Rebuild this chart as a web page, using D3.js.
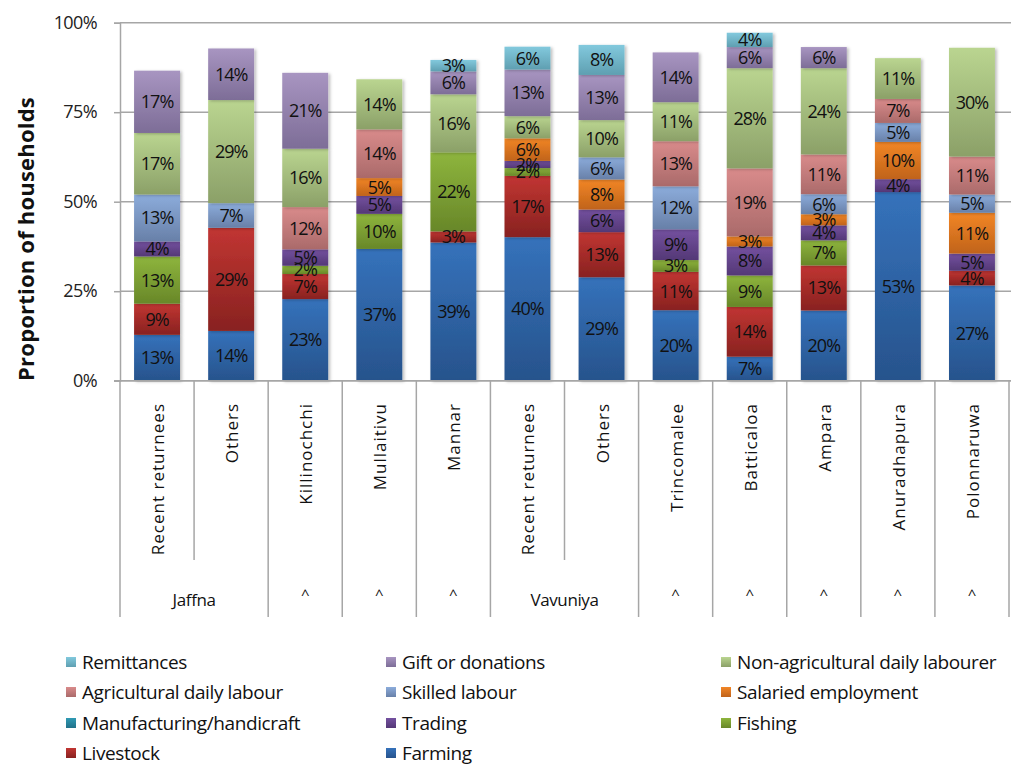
<!DOCTYPE html>
<html>
<head>
<meta charset="utf-8">
<script src="https://cdn.jsdelivr.net/npm/d3@7"></script>
<style>
  html, body { margin: 0; padding: 0; background: #fff; }
  svg { display: block; font-family: "Open Sans", "Noto Sans", sans-serif; }
</style>
</head>
<body>
<svg id="chart" width="1011" height="765"></svg>
<script>
// ---- Data (percent of households), stacked bottom -> top ----
const categories = ["Recent returnees", "Others", "Killinochchi", "Mullaitivu", "Mannar",
  "Recent returnees", "Others", "Trincomalee", "Batticaloa", "Ampara", "Anuradhapura", "Polonnaruwa"];
const groupLabels = ["Jaffna", "Jaffna", "^", "^", "^", "Vavuniya", "Vavuniya", "^", "^", "^", "^", "^"];

const seriesNames = ["Farming", "Livestock", "Fishing", "Trading", "Manufacturing/handicraft",
  "Salaried employment", "Skilled labour", "Agricultural daily labour",
  "Non-agricultural daily labourer", "Gift or donations", "Remittances"];

const farming       = [12.8, 13.9, 22.8, 36.8, 38.6, 40.1, 28.9, 19.7, 6.7, 19.6, 52.7, 26.6];
const livestock     = [8.7, 28.8, 7.0, 0, 3.1, 17.1, 12.6, 10.7, 13.9, 12.6, 0, 4.1];
const fishing       = [13.2, 0, 2.3, 9.8, 22.1, 2.2, 0, 3.3, 8.8, 7.0, 0, 0];
const trading       = [4.2, 0, 4.6, 5.0, 0, 2.0, 6.3, 8.6, 8.1, 4.2, 3.6, 4.8];
const manufacturing = [0, 0, 0, 0, 0, 0, 0, 0, 0, 0, 0, 0];
const salaried      = [0, 0, 0, 5.0, 0, 6.3, 8.4, 0, 2.8, 3.1, 10.4, 11.4];
const skilled       = [13.1, 6.9, 0, 0, 0, 0, 6.2, 12.0, 0, 5.6, 5.3, 5.1];
const agriDaily     = [0, 0, 11.8, 13.6, 0, 0, 0, 12.6, 19.0, 11.1, 6.7, 10.6];
const nonAgriDaily  = [17.2, 28.8, 16.3, 14.0, 16.2, 6.2, 10.4, 10.9, 28.0, 24.1, 11.4, 30.4];
const gifts         = [17.4, 14.4, 21.2, 0, 6.4, 13.0, 12.6, 13.9, 5.9, 5.9, 0, 0];
const remittances   = [0, 0, 0, 0, 3.2, 6.4, 8.4, 0, 4.0, 0, 0, 0];

const yTicks = [0, 25, 50, 75, 100];

const seriesValues = [farming, livestock, fishing, trading, manufacturing, salaried,
  skilled, agriDaily, nonAgriDaily, gifts, remittances];

// gradient colours (top, bottom) per series
const colorsTop    = ["#3572bb", "#c13532", "#8eb53d", "#7451a0", "#2f9ab4", "#f28626", "#8cacdb", "#d98b8b", "#bad590", "#a895c1", "#82c9dd"];
const colorsBottom = ["#27538c", "#882220", "#688729", "#543876", "#217189", "#c0631a", "#6880a8", "#aa6a6a", "#8ba068", "#7d6d97", "#5f9fb1"];

// ---- Layout ----
const svg = d3.select("#chart");
const pLeft = 120, pRight = 1009, pTop = 22.7, pBottom = 380.7;

const idx = d3.range(categories.length);
const x = d3.scaleBand().domain(idx).range([pLeft, pRight]).paddingInner(0.38).paddingOuter(0.19);
const y = d3.scaleLinear().domain([0, 100]).range([pBottom, pTop]);

// table for the stack
const table = idx.map(i => {
  const row = { i };
  seriesNames.forEach((s, k) => row[s] = seriesValues[k][i]);
  return row;
});
const stacked = d3.stack().keys(seriesNames)(table);

// defs: gradients, shadow
const defs = svg.append("defs");
seriesNames.forEach((s, k) => {
  const g = defs.append("linearGradient").attr("id", "g" + k)
    .attr("x1", 0).attr("y1", 0).attr("x2", 0).attr("y2", 1);
  g.append("stop").attr("offset", "0%").attr("stop-color", colorsTop[k]);
  g.append("stop").attr("offset", "100%").attr("stop-color", colorsBottom[k]);
});
const f = defs.append("filter").attr("id", "shadow").attr("x", "-20%").attr("y", "-5%").attr("width", "140%").attr("height", "110%");
f.append("feDropShadow").attr("dx", 2).attr("dy", 1).attr("stdDeviation", 1.5).attr("flood-color", "#000").attr("flood-opacity", 0.25);

// gridlines
svg.append("g").selectAll("line").data(yTicks).join("line")
  .attr("x1", pLeft).attr("x2", pRight + 2)
  .attr("y1", d => y(d)).attr("y2", d => y(d))
  .attr("stroke", "#a6a6a6").attr("stroke-width", 1.5);

// y axis
const yAxis = svg.append("g").attr("transform", `translate(${pLeft},0)`)
  .call(d3.axisLeft(y).tickValues(yTicks).tickFormat(d => d + "%").tickSize(6).tickPadding(17));
yAxis.select(".domain").attr("stroke", "#a6a6a6").attr("stroke-width", 1.5);
yAxis.selectAll(".tick line").attr("stroke", "#a6a6a6").attr("stroke-width", 1.5);
yAxis.selectAll(".tick text").attr("font-size", 18).attr("fill", "#222")
  .attr("letter-spacing", "-0.6")
  .attr("font-family", "'Open Sans', sans-serif");

// y title
svg.append("text")
  .attr("transform", `translate(34,239) rotate(-90)`)
  .attr("text-anchor", "middle").attr("font-size", 22).attr("font-weight", "bold")
  .attr("letter-spacing", "0.2")
  .attr("fill", "#111").text("Proportion of households");

// bars
const barG = svg.append("g");
stacked.forEach((layer, k) => {
  barG.append("g").attr("filter", "url(#shadow)")
    .selectAll("rect").data(layer.filter(d => d[1] - d[0] > 0)).join("rect")
    .attr("x", d => x(d.data.i)).attr("width", x.bandwidth())
    .attr("y", d => y(d[1])).attr("height", d => y(d[0]) - y(d[1]))
    .attr("fill", `url(#g${k})`);
});
// labels
stacked.forEach((layer, k) => {
  barG.append("g").selectAll("text").data(layer.filter(d => d[1] - d[0] > 0)).join("text")
    .attr("x", d => x(d.data.i) + x.bandwidth() / 2)
    .attr("y", d => (y(d[0]) + y(d[1])) / 2)
    .attr("dy", "0.36em")
    .attr("text-anchor", "middle").attr("font-size", 18).attr("fill", "#111")
    .attr("letter-spacing", "-1")
    .text(d => Math.round(d[1] - d[0]) + "%");
});

// x axis area
const step = x.step();
const axisG = svg.append("g");
axisG.append("line").attr("x1", pLeft - 6).attr("x2", pRight + 2)
  .attr("y1", pBottom).attr("y2", pBottom).attr("stroke", "#a6a6a6").attr("stroke-width", 1.5);
// separators
d3.range(categories.length + 1).forEach(i => {
  const xx = pLeft + i * step;
  const inner = i > 0 && i < categories.length && groupLabels[i] === groupLabels[i - 1] && groupLabels[i] !== "^";
  axisG.append("line").attr("x1", xx).attr("x2", xx)
    .attr("y1", pBottom).attr("y2", inner ? 560 : 617)
    .attr("stroke", "#a6a6a6").attr("stroke-width", 1.5);
});
// category labels
axisG.selectAll("text.cat").data(idx).join("text").attr("class", "cat")
  .attr("transform", i => `translate(${x(i) + x.bandwidth() / 2 + 7},403) rotate(-90)`)
  .attr("text-anchor", "end").attr("font-size", 17).attr("fill", "#111")
  .attr("letter-spacing", "1")
  .text(i => categories[i]);
// group labels
const groups = [];
idx.forEach(i => {
  if (groupLabels[i] !== "^" && i > 0 && groupLabels[i] === groupLabels[i - 1]) {
    groups[groups.length - 1].end = i;
  } else groups.push({ label: groupLabels[i], start: i, end: i });
});
axisG.selectAll("text.grp").data(groups).join("text").attr("class", "grp")
  .attr("x", d => pLeft + (d.start + d.end + 1) / 2 * step)
  .attr("y", d => d.label === "^" ? 600 : 606)
  .attr("text-anchor", "middle").attr("font-size", d => d.label === "^" ? 15 : 17).attr("fill", "#111")
  .attr("letter-spacing", d => d.label === "^" ? "0" : "-0.4")
  .text(d => d.label);

// legend
const legendOrder = seriesNames.map((s, k) => k).reverse();
const colX = [66, 386, 721];
const rowY = [662, 692, 723, 753];
const lg = svg.append("g");
legendOrder.forEach((k, j) => {
  const cx = colX[j % 3], cy = rowY[Math.floor(j / 3)];
  lg.append("rect").attr("x", cx).attr("y", cy - 5).attr("width", 10).attr("height", 10)
    .attr("fill", `url(#g${k})`);
  lg.append("text").attr("x", cx + 16).attr("y", cy).attr("dy", "0.35em")
    .attr("font-size", 19).attr("fill", "#111").attr("letter-spacing", "-0.4")
    .text(seriesNames[k]);
});
</script>
</body>
</html>
